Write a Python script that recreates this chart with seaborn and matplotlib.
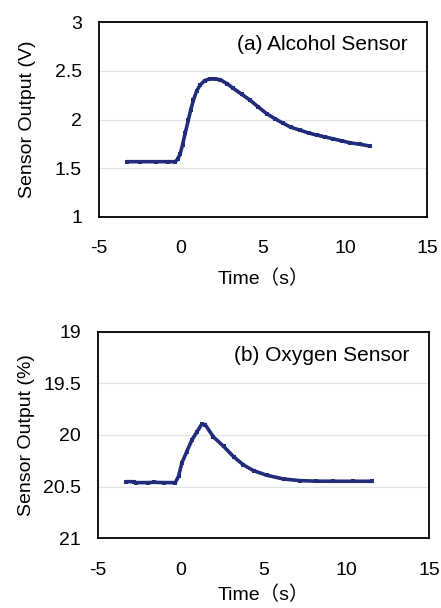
import pandas as pd
import matplotlib.pyplot as plt
import seaborn as sns

# (a) alcohol sensor
alc_time = [-3.3, -2.5, -1.5, -0.8, -0.36, -0.2, -0.04, 0.1, 0.26, 0.46, 0.6, 0.76, 0.95,
            1.17, 1.45, 1.78, 2.1, 2.38, 2.8, 3.19, 3.7, 4.2, 4.7, 5.22, 5.7, 6.24, 6.7,
            7.25, 7.8, 8.27, 8.8, 9.28, 9.8, 10.3, 10.9, 11.5]
alc_volt = [1.566, 1.566, 1.566, 1.566, 1.566, 1.59, 1.65, 1.74, 1.86, 2.0, 2.1, 2.2, 2.29,
            2.355, 2.4, 2.42, 2.418, 2.41, 2.37, 2.32, 2.26, 2.2, 2.13, 2.06, 2.01, 1.96, 1.92,
            1.89, 1.86, 1.84, 1.82, 1.80, 1.78, 1.76, 1.745, 1.727]

# (b) oxygen sensor
oxy_time = [-3.29, -2.8, -2.7, -2.0, -1.6, -1.0, -0.33, -0.13, 0.07, 0.37, 0.67, 0.98, 1.28,
            1.48, 1.98, 2.59, 3.19, 3.79, 4.4, 5.2, 6.21, 7.21, 8.2, 9.22, 10.4, 11.54]
oxy_pct = [20.452, 20.452, 20.461, 20.461, 20.458, 20.461, 20.461, 20.40, 20.27, 20.16, 20.05,
           19.97, 19.894, 19.90, 20.02, 20.11, 20.21, 20.29, 20.345, 20.39, 20.426, 20.442,
           20.447, 20.448, 20.448, 20.448]

df_a = pd.DataFrame({'time': alc_time, 'out': alc_volt})
df_b = pd.DataFrame({'time': oxy_time, 'out': oxy_pct})

sns.set_style("white")
plt.rcParams['font.family'] = ['Liberation Sans', 'Noto Sans CJK JP']
plt.rcParams['text.color'] = 'black'
plt.rcParams['axes.labelcolor'] = 'black'
plt.rcParams['xtick.color'] = 'black'
plt.rcParams['ytick.color'] = 'black'

line_color = '#222c7a'
fig = plt.figure(figsize=(4.41, 6.08), dpi=100)
ax1 = fig.add_axes([0.224, 0.6436, 0.745, 0.3197])
ax2 = fig.add_axes([0.222, 0.1146, 0.751, 0.340])

panels = [
    (ax1, df_a, 'Sensor Output (V)', '(a) Alcohol Sensor', (1, 3), [1, 1.5, 2, 2.5, 3], ['1', '1.5', '2', '2.5', '3'], 9),
    (ax2, df_b, 'Sensor Output (%)', '(b) Oxygen Sensor', (21, 19), [19, 19.5, 20, 20.5, 21], ['19', '19.5', '20', '20.5', '21'], 5),
]

for ax, df, ylab, title, ylim, yticks, ylabels, xpad in panels:
    sns.lineplot(x='time', y='out', data=df, ax=ax, color=line_color, linewidth=2.6,
                 marker='s', markersize=2.5, markeredgewidth=0)
    ax.set_xlim(-5, 15)
    ax.set_ylim(*ylim)
    ax.set_xticks([-5, 0, 5, 10, 15])
    ax.set_xticklabels(['-5', '0', '5', '10', '15'])
    ax.set_yticks(yticks)
    ax.set_yticklabels(ylabels)
    ax.grid(axis='y', color='#e2e2e2', linewidth=0.9)
    ax.grid(axis='x', visible=False)
    for s in ax.spines.values():
        s.set_color('black')
        s.set_linewidth(1.3)
    ax.tick_params(axis='x', direction='in', length=5, width=1, pad=17, labelsize=14)
    ax.tick_params(axis='y', length=0, pad=12, labelsize=14)
    ax.set_xlabel('Time（s）', fontsize=14, labelpad=xpad)
    ax.set_ylabel(ylab, fontsize=14)
    ax.yaxis.set_label_coords(-0.19, 0.5)
    ax.text(0.94, 0.885, title, transform=ax.transAxes, ha='right', va='center', fontsize=15)

plt.savefig('out.png', dpi=100)
plt.close()
